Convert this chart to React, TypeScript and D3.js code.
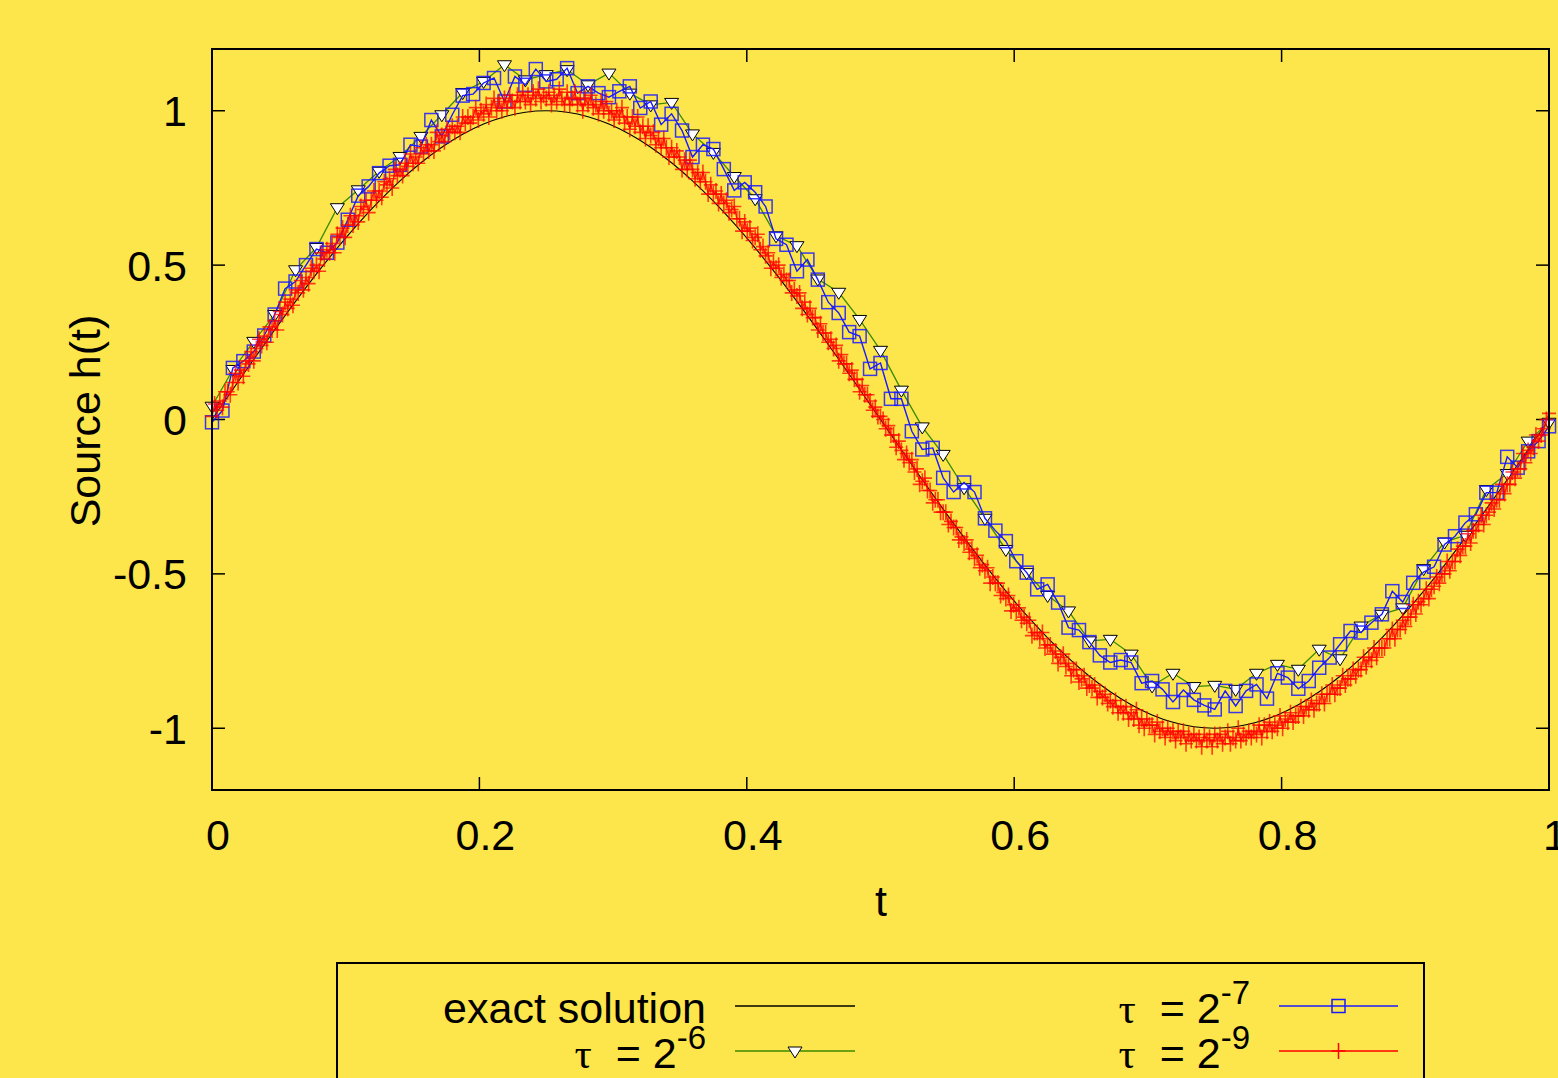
import * as d3 from 'd3';

// source term h(t), exact vs. numerical reconstruction for several step sizes
const X_TICKS = [0, 0.2, 0.4, 0.6, 0.8, 1];
const X_LABELS = ['0', '0.2', '0.4', '0.6', '0.8', '1'];
const Y_TICKS = [-1, -0.5, 0, 0.5, 1];
const Y_LABELS = ['-1', '-0.5', '0', '0.5', '1'];

// exact solution sampled on t = k/64
const EXACT = [
  0, 0.098, 0.1951, 0.2903, 0.3827, 0.4714, 0.5556, 0.6344, 0.7071, 0.773, 0.8315, 0.8819, 0.9239, 0.9569, 0.9808, 0.9952, 1,
  0.9952, 0.9808, 0.9569, 0.9239, 0.8819, 0.8315, 0.773, 0.7071, 0.6344, 0.5556, 0.4714, 0.3827, 0.2903, 0.1951, 0.098, 0,
  -0.098, -0.1951, -0.2903, -0.3827, -0.4714, -0.5556, -0.6344, -0.7071, -0.773, -0.8315, -0.8819, -0.9239, -0.9569, -0.9808, -0.9952, -1,
  -0.9952, -0.9808, -0.9569, -0.9239, -0.8819, -0.8315, -0.773, -0.7071, -0.6344, -0.5556, -0.4714, -0.3827, -0.2903, -0.1951, -0.098, 0,
];

// tau = 2^-6 (65 points)
const TAU6 = [
  0.043, 0.162, 0.253, 0.34, 0.485, 0.557, 0.686, 0.744, 0.804, 0.852, 0.917, 0.987, 1.059, 1.095, 1.149, 1.1,
  1.117, 1.133, 1.084, 1.122, 1.057, 1.019, 1.027, 0.925, 0.865, 0.787, 0.715, 0.595, 0.563, 0.455, 0.412, 0.324,
  0.224, 0.095, -0.024, -0.113, -0.221, -0.32, -0.421, -0.496, -0.57, -0.62, -0.717, -0.712, -0.76, -0.863, -0.822, -0.865,
  -0.861, -0.874, -0.822, -0.793, -0.809, -0.744, -0.775, -0.669, -0.631, -0.61, -0.483, -0.397, -0.375, -0.227, -0.175, -0.07,
  -0.009,
];

// tau = 2^-7 (129 points)
const TAU7 = [
  -0.009, 0.029, 0.167, 0.189, 0.22, 0.272, 0.34, 0.424, 0.447, 0.5, 0.552, 0.54, 0.573, 0.647, 0.725, 0.755,
  0.798, 0.822, 0.825, 0.89, 0.884, 0.97, 0.917, 0.987, 1.049, 1.054, 1.09, 1.106, 1.03, 1.111, 1.084, 1.135,
  1.095, 1.102, 1.138, 1.057, 1.079, 1.057, 1.044, 1.063, 1.079, 1.009, 1.03, 0.955, 0.99, 0.936, 0.85, 0.89,
  0.876, 0.811, 0.742, 0.768, 0.736, 0.69, 0.585, 0.566, 0.48, 0.518, 0.453, 0.38, 0.345, 0.283, 0.27, 0.164,
  0.183, 0.067, 0.067, -0.038, -0.097, -0.092, -0.189, -0.235, -0.204, -0.235, -0.32, -0.36, -0.394, -0.459, -0.496, -0.55,
  -0.534, -0.593, -0.674, -0.682, -0.721, -0.764, -0.787, -0.779, -0.787, -0.854, -0.847, -0.874, -0.915, -0.876, -0.908, -0.926,
  -0.939, -0.879, -0.928, -0.879, -0.858, -0.904, -0.822, -0.836, -0.872, -0.847, -0.804, -0.771, -0.728, -0.685, -0.69, -0.658,
  -0.631, -0.556, -0.591, -0.529, -0.494, -0.477, -0.405, -0.378, -0.334, -0.307, -0.237, -0.237, -0.121, -0.156, -0.103, -0.07,
  -0.022,
];

// tau = 2^-9 (513 points)
const TAU9 = [
  0.01, 0.05, 0.03, 0.06, 0.04, 0.09, 0.09, 0.08, 0.12, 0.15, 0.12, 0.16, 0.14, 0.19, 0.18, 0.22, 0.19, 0.23, 0.26, 0.24,
  0.27, 0.25, 0.3, 0.29, 0.32, 0.29, 0.35, 0.34, 0.38, 0.36, 0.39, 0.37, 0.42, 0.41, 0.45, 0.42, 0.46, 0.44, 0.49, 0.48,
  0.5, 0.48, 0.54, 0.52, 0.55, 0.54, 0.57, 0.54, 0.6, 0.59, 0.62, 0.59, 0.63, 0.66, 0.63, 0.66, 0.64, 0.69, 0.68, 0.71,
  0.67, 0.71, 0.74, 0.71, 0.74, 0.72, 0.77, 0.76, 0.78, 0.75, 0.81, 0.79, 0.81, 0.79, 0.83, 0.82, 0.86, 0.83, 0.85, 0.83,
  0.88, 0.86, 0.89, 0.87, 0.89, 0.87, 0.93, 0.9, 0.92, 0.9, 0.94, 0.93, 0.95, 0.93, 0.95, 0.93, 0.98, 0.96, 0.98, 0.96,
  0.98, 1.01, 0.97, 1.0, 0.99, 1.02, 0.98, 1.01, 1.04, 1.0, 1.03, 1.0, 1.04, 1.01, 1.05, 1.03, 1.01, 1.05, 1.03, 1.06,
  1.03, 1.05, 1.02, 1.06, 1.04, 1.07, 1.03, 1.05, 1.04,
  1.06, 1.02, 1.05, 1.03, 1.07, 1.04, 1.02, 1.06, 1.02, 1.04, 1.06, 1.02, 1.04, 1.0, 1.04, 1.02, 1.05, 1.01, 1.02, 0.99,
  1.03, 1.0, 1.03, 0.99, 1.0, 0.97, 1.0, 0.98, 1.01, 0.96, 0.98, 0.94, 0.98, 0.95, 0.98, 0.93, 0.95, 0.91, 0.95, 0.92,
  0.93, 0.89, 0.91, 0.88, 0.91, 0.88, 0.85, 0.88, 0.85, 0.87, 0.85, 0.81, 0.84, 0.81, 0.84, 0.81, 0.78, 0.8, 0.77, 0.8,
  0.77, 0.73, 0.76, 0.73, 0.74, 0.7, 0.73, 0.7, 0.71, 0.67, 0.68, 0.69, 0.65, 0.65, 0.61, 0.64, 0.61, 0.62, 0.58, 0.59,
  0.6, 0.55, 0.56, 0.53, 0.54, 0.49, 0.51, 0.49, 0.5, 0.46, 0.47, 0.45, 0.45, 0.41, 0.42, 0.4, 0.41, 0.36, 0.38, 0.34,
  0.36, 0.33, 0.33, 0.29, 0.31, 0.28, 0.28, 0.25, 0.26, 0.23, 0.24, 0.19, 0.21, 0.18, 0.18, 0.15, 0.16, 0.13, 0.13, 0.09,
  0.11, 0.08, 0.08, 0.06, 0.03, 0.04, 0.01, 0.01,
  0.0, -0.03, -0.02, -0.05, -0.05, -0.09, -0.07, -0.1, -0.13, -0.11, -0.14, -0.13, -0.17, -0.16, -0.21, -0.2, -0.19, -0.23, -0.23, -0.27,
  -0.26, -0.26, -0.3, -0.3, -0.3, -0.34, -0.33, -0.35, -0.35, -0.39, -0.38, -0.4, -0.39, -0.43, -0.42, -0.45, -0.44, -0.48, -0.47, -0.49,
  -0.48, -0.53, -0.51, -0.53, -0.53, -0.57, -0.56, -0.58, -0.57, -0.62, -0.6, -0.62, -0.61, -0.65, -0.64, -0.66, -0.65, -0.7, -0.69, -0.69,
  -0.71, -0.69, -0.74, -0.73, -0.73, -0.76, -0.75, -0.79, -0.77, -0.76, -0.8, -0.79, -0.83, -0.81, -0.81, -0.85, -0.84, -0.83, -0.87, -0.86,
  -0.87, -0.86, -0.9, -0.88, -0.9, -0.89, -0.92, -0.91, -0.93, -0.91, -0.95, -0.93, -0.95, -0.93, -0.97, -0.95, -0.97, -0.94, -0.99, -0.97,
  -1.0, -0.97, -0.99, -0.99, -1.02, -0.98, -1.01, -1.0, -1.03, -1.0, -1.02, -1.01, -1.04, -1.01, -1.03, -1.01, -1.05, -1.02, -1.04, -1.02,
  -1.04, -1.03, -1.06, -1.02, -1.04, -1.03, -1.06, -1.02,
  -1.04, -1.02, -1.05, -1.03, -1.01, -1.05, -1.03, -1.04, -1.0, -1.04, -1.02, -1.03, -1.01, -1.03, -1.01, -1.02, -0.99, -1.03, -0.99, -1.01,
  -0.98, -1.01, -0.99, -1.0, -0.96, -1.0, -0.97, -0.98, -0.95, -0.98, -0.96, -0.96, -0.93, -0.96, -0.93, -0.94, -0.91, -0.94, -0.92, -0.92,
  -0.89, -0.92, -0.89, -0.89, -0.86, -0.89, -0.87, -0.87, -0.83, -0.86, -0.84, -0.84, -0.81, -0.83, -0.81, -0.81, -0.77, -0.8, -0.77, -0.78,
  -0.74, -0.77, -0.74, -0.74, -0.74, -0.71, -0.71, -0.68, -0.71, -0.68, -0.68, -0.65, -0.67, -0.64, -0.64, -0.6, -0.63, -0.59, -0.6, -0.58,
  -0.55, -0.58, -0.55, -0.54, -0.51, -0.53, -0.5, -0.5, -0.46, -0.49, -0.46, -0.46, -0.42, -0.44, -0.41, -0.41, -0.37, -0.4, -0.36, -0.36,
  -0.34, -0.31, -0.34, -0.31, -0.3, -0.27, -0.29, -0.26, -0.26, -0.21, -0.24, -0.21, -0.21, -0.17, -0.19, -0.16, -0.16, -0.11, -0.14, -0.1,
  -0.11, -0.09, -0.05, -0.07, -0.05, -0.03, 0.0, 0.02,
];

const BG = '#fde64b';
const FONT = '"Liberation Sans", Arial, Helvetica, sans-serif';
const GREEN = '#3a8a00';
const BLUE = '#1a1aff';
const RED = '#ff0000';

const W = 1558;
const H = 1078;

type Pt = [number, number];
const toPts = (vals: number[]): Pt[] => vals.map((v, i) => [i / (vals.length - 1), v]);

const triPath = 'M-7,-4L7,-4L0,7Z';
const plusPath = 'M-7,0H7M0,-8V8';

export default function App() {
  const x = d3.scaleLinear().domain([0, 1]).range([212, 1549]);
  const y = d3.scaleLinear().domain([-1.2, 1.2]).range([790, 49]);
  const [x0, x1] = x.range();
  const [yb, yt] = y.range();

  const line = d3.line<Pt>().x(d => x(d[0])).y(d => y(d[1]));
  const smooth = d3.line<Pt>().x(d => x(d[0])).y(d => y(d[1])).curve(d3.curveNatural);

  const exact = toPts(EXACT);
  const s6 = toPts(TAU6);
  const s7 = toPts(TAU7);
  const s9 = toPts(TAU9);

  const tick = 13;

  const legendRows = [
    { col: 0, row: 0, label: 'exact', color: '#000', marker: null as string | null },
    { col: 0, row: 1, label: '6', color: GREEN, marker: 'tri' },
    { col: 1, row: 0, label: '7', color: BLUE, marker: 'sq' },
    { col: 1, row: 1, label: '9', color: RED, marker: 'plus' },
  ];
  const colTextRight = [706, 1250];
  const colLineX = [[735, 855], [1279, 1398]];
  const rowBase = [1023, 1068];
  const rowLine = [1006, 1051];

  return (
    <svg width={W} height={H} style={{ position: 'absolute', left: 0, top: 0, background: BG }}
      fontFamily={FONT}>
      <rect x={0} y={0} width={W} height={H} fill={BG} />

      {/* ticks, mirrored on all sides */}
      <g stroke="#000" strokeWidth={1.5}>
        {X_TICKS.map(t => (
          <g key={'xt' + t}>
            <line x1={x(t)} x2={x(t)} y1={yb} y2={yb - tick} />
            <line x1={x(t)} x2={x(t)} y1={yt} y2={yt + tick} />
          </g>
        ))}
        {Y_TICKS.map(t => (
          <g key={'yt' + t}>
            <line x1={x0} x2={x0 + tick} y1={y(t)} y2={y(t)} />
            <line x1={x1} x2={x1 - tick} y1={y(t)} y2={y(t)} />
          </g>
        ))}
      </g>

      {/* exact solution */}
      <path d={smooth(exact) ?? ''} fill="none" stroke="#000" strokeWidth={1.1} />

      {/* tau = 2^-6 */}
      <path d={line(s6) ?? ''} fill="none" stroke={GREEN} strokeWidth={1.3} />
      {s6.map((d, i) => (
        <path key={'g' + i} d={triPath} transform={`translate(${x(d[0])},${y(d[1])})`}
          fill="#fff" stroke="#000" strokeWidth={1} />
      ))}

      {/* tau = 2^-7 */}
      <path d={line(s7) ?? ''} fill="none" stroke={BLUE} strokeWidth={1.4} />
      {s7.map((d, i) => (
        <rect key={'b' + i} x={x(d[0]) - 6.5} y={y(d[1]) - 6.5} width={13} height={13}
          fill="none" stroke={BLUE} strokeWidth={1.5} strokeOpacity={0.85} />
      ))}

      {/* tau = 2^-9 */}
      <path d={line(s9) ?? ''} fill="none" stroke={RED} strokeWidth={1.3} strokeOpacity={0.85} />
      {s9.map((d, i) => (
        <path key={'r' + i} d={plusPath} transform={`translate(${x(d[0])},${y(d[1])})`}
          stroke={RED} strokeWidth={1.6} strokeOpacity={0.75} />
      ))}

      {/* frame */}
      <rect x={x0} y={yt} width={x1 - x0} height={yb - yt} fill="none" stroke="#000" strokeWidth={2} />

      {/* tick labels */}
      <g fontSize={43} fill="#000">
        {X_TICKS.map((t, i) => (
          <text key={'xl' + t} x={x(t) + 6} y={850} textAnchor="middle">{X_LABELS[i]}</text>
        ))}
        {Y_TICKS.map((t, i) => (
          <text key={'yl' + t} x={187} y={y(t) + 15.5} textAnchor="end">{Y_LABELS[i]}</text>
        ))}
        <text x={881} y={916} textAnchor="middle">t</text>
        <text transform="translate(100,421) rotate(-90)" textAnchor="middle">Source h(t)</text>
      </g>

      {/* legend */}
      <rect x={337} y={963} width={1087} height={140} fill="none" stroke="#000" strokeWidth={2} />
      {legendRows.map(r => {
        const [lx0, lx1] = colLineX[r.col];
        const ly = rowLine[r.row];
        const mx = (lx0 + lx1) / 2;
        return (
          <g key={r.label}>
            {r.label === 'exact' ? (
              <text x={colTextRight[r.col]} y={rowBase[r.row]} fontSize={43} textAnchor="end">exact solution</text>
            ) : (
              <text x={colTextRight[r.col]} y={rowBase[r.row]} fontSize={43} textAnchor="end"
                style={{ whiteSpace: 'pre' }}>
                <tspan fontFamily='"Liberation Serif", "DejaVu Serif", serif'>{'τ'}</tspan>
                <tspan>{'  = 2'}</tspan>
                <tspan fontSize={33} dy={-19}>{'-' + r.label}</tspan>
              </text>
            )}
            <line x1={lx0} x2={lx1} y1={ly} y2={ly} stroke={r.color} strokeWidth={1.3} />
            {r.marker === 'tri' && (
              <path d={triPath} transform={`translate(${mx},${ly})`} fill="#fff" stroke="#000" strokeWidth={1} />
            )}
            {r.marker === 'sq' && (
              <rect x={mx - 6.5} y={ly - 6.5} width={13} height={13} fill="none" stroke={BLUE} strokeWidth={1.5} />
            )}
            {r.marker === 'plus' && (
              <path d={plusPath} transform={`translate(${mx},${ly})`} stroke={RED} strokeWidth={1.5} />
            )}
          </g>
        );
      })}
    </svg>
  );
}
